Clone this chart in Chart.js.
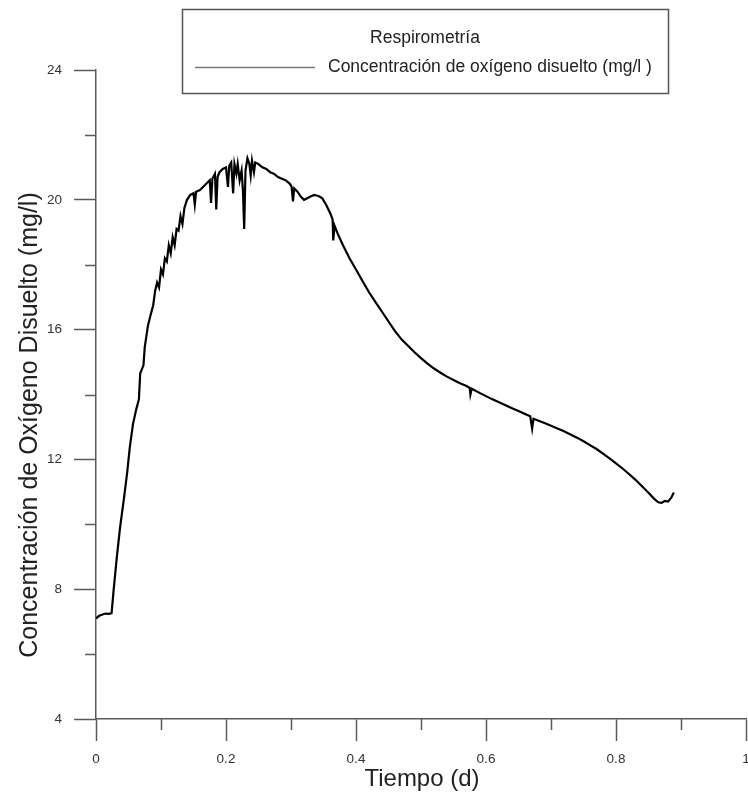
<!DOCTYPE html>
<html>
<head>
<meta charset="utf-8">
<title>Respirometría</title>
<script src="https://cdn.jsdelivr.net/npm/chart.js@4.4.1/dist/chart.umd.min.js"></script>
<style>
  html, body { margin: 0; padding: 0; background: #fff; }
  #wrap { width: 748px; height: 796px; }
</style>
</head>
<body>
<div id="wrap"><canvas id="resp-chart" width="748" height="796"></canvas></div>
<script>
// ─── DATA ─────────────────────────────────────────────────
const legendTitle = 'Respirometría';
const seriesLabel = 'Concentración de oxígeno disuelto (mg/l )';
const xTitle = 'Tiempo (d)';
const yTitle = 'Concentración de Oxígeno Disuelto (mg/l)';

const xTicks = [0, 0.2, 0.4, 0.6, 0.8, 1];
const xMinorTicks = [0.1, 0.3, 0.5, 0.7, 0.9];
const yTicks = [4, 8, 12, 16, 20, 24];
const yMinorTicks = [6, 10, 14, 18, 22];

// time (d)
const tiempo = [
    0.000, 0.005, 0.010, 0.015, 0.020, 0.024, 0.027, 0.032, 0.037, 0.043,
    0.048, 0.052, 0.057, 0.062, 0.066, 0.068, 0.073, 0.075, 0.080, 0.084,
    0.088, 0.091, 0.094, 0.097, 0.100, 0.103, 0.106, 0.109, 0.112, 0.115,
    0.118, 0.121, 0.124, 0.127, 0.130, 0.133, 0.136, 0.140, 0.145, 0.150,
    0.152, 0.154, 0.160, 0.165, 0.170, 0.175, 0.177, 0.179, 0.183, 0.185,
    0.187, 0.190, 0.195, 0.200, 0.203, 0.205, 0.208, 0.211, 0.213, 0.216,
    0.218, 0.221, 0.224, 0.226, 0.228, 0.230, 0.233, 0.236, 0.238, 0.240,
    0.243, 0.245, 0.250, 0.256, 0.262, 0.268, 0.274, 0.280, 0.286, 0.292,
    0.298, 0.301, 0.303, 0.305, 0.310, 0.315, 0.320, 0.325, 0.330, 0.336,
    0.342, 0.348, 0.354, 0.360, 0.364, 0.365, 0.367, 0.372, 0.380, 0.390,
    0.400, 0.410, 0.420, 0.430, 0.440, 0.450, 0.460, 0.470, 0.480, 0.490,
    0.500, 0.510, 0.520, 0.530, 0.540, 0.550, 0.560, 0.570, 0.575, 0.576,
    0.578, 0.590, 0.600, 0.610, 0.620, 0.630, 0.640, 0.650, 0.660, 0.668,
    0.671, 0.673, 0.680, 0.690, 0.700, 0.710, 0.720, 0.730, 0.740, 0.750,
    0.760, 0.770, 0.780, 0.790, 0.800, 0.810, 0.820, 0.830, 0.840, 0.850,
    0.858, 0.865, 0.870, 0.875, 0.880, 0.885, 0.889
];

// dissolved oxygen (mg/l)
const oxigeno = [
    7.10, 7.18, 7.22, 7.25, 7.24, 7.26, 7.95, 8.98, 9.90, 10.80,
    11.60, 12.37, 13.10, 13.55, 13.85, 14.65, 14.90, 15.46, 16.13, 16.45,
    16.75, 17.20, 17.45, 17.30, 17.85, 17.70, 18.20, 18.10, 18.60, 18.35,
    18.85, 18.60, 19.10, 19.05, 19.50, 19.25, 19.75, 20.00, 20.15, 20.20,
    19.85, 20.25, 20.30, 20.40, 20.50, 20.60, 19.90, 20.65, 20.80, 19.70,
    20.70, 20.85, 20.95, 21.00, 20.40, 21.05, 21.15, 20.20, 21.10, 20.80,
    21.10, 20.60, 20.90, 20.30, 19.10, 20.90, 21.28, 21.10, 20.75, 21.20,
    20.85, 21.15, 21.10, 21.00, 20.95, 20.85, 20.80, 20.70, 20.65, 20.60,
    20.50, 20.40, 19.95, 20.35, 20.25, 20.10, 20.00, 20.05, 20.10, 20.15,
    20.12, 20.05, 19.85, 19.60, 19.40, 18.75, 19.20, 18.95, 18.60, 18.20,
    17.85, 17.50, 17.15, 16.85, 16.55, 16.25, 15.95, 15.70, 15.50, 15.30,
    15.12, 14.95, 14.80, 14.67, 14.55, 14.45, 14.35, 14.26, 14.20, 14.00,
    14.18, 14.05, 13.95, 13.85, 13.76, 13.67, 13.58, 13.49, 13.40, 13.33,
    12.95, 13.25, 13.20, 13.12, 13.04, 12.95, 12.87, 12.77, 12.67, 12.56,
    12.44, 12.32, 12.18, 12.03, 11.88, 11.72, 11.55, 11.37, 11.17, 10.97,
    10.80, 10.68, 10.66, 10.72, 10.70, 10.82, 10.98
];

// ─── PLUGINS ──────────────────────────────────────────────
const AXIS_COLOR = '#5a5a5a';
const TEXT_COLOR = '#222';
const FONT = '"Liberation Sans", Arial, sans-serif';

// short minor ticks between the labelled ones
const minorTicks = {
    id: 'minorTicks',
    afterDraw(chart) {
        const c = chart.ctx, xs = chart.scales.x, ys = chart.scales.y;
        c.save();
        c.strokeStyle = AXIS_COLOR;
        c.lineWidth = 1.5;
        c.beginPath();
        xMinorTicks.forEach(v => {
            const px = Math.round(xs.getPixelForValue(v)) + 0.5;
            c.moveTo(px, ys.bottom);
            c.lineTo(px, ys.bottom + 11);
        });
        yMinorTicks.forEach(v => {
            const py = Math.round(ys.getPixelForValue(v)) + 0.5;
            c.moveTo(xs.left - 11, py);
            c.lineTo(xs.left, py);
        });
        c.stroke();
        c.restore();
    }
};

// boxed legend + axis titles
const annotations = {
    id: 'annotations',
    afterDraw(chart) {
        const c = chart.ctx;
        const ds = chart.data.datasets[0];
        c.save();

        // legend box
        c.strokeStyle = '#555';
        c.lineWidth = 1.5;
        c.strokeRect(182.5, 9.5, 486, 84);
        c.fillStyle = TEXT_COLOR;
        c.font = '17.5px ' + FONT;
        c.textAlign = 'center';
        c.textBaseline = 'middle';
        c.fillText(legendTitle, 425, 38);
        c.strokeStyle = '#777';
        c.beginPath();
        c.moveTo(195, 67.5);
        c.lineTo(315, 67.5);
        c.stroke();
        c.textAlign = 'left';
        c.fillText(ds.label, 328, 67);

        // x title
        c.font = '24px ' + FONT;
        c.textAlign = 'center';
        c.textBaseline = 'alphabetic';
        c.fillText(xTitle, 422, 786);

        // y title
        c.font = '25px ' + FONT;
        c.translate(37, 425);
        c.rotate(-Math.PI / 2);
        c.fillText(yTitle, 0, 0);
        c.restore();
    }
};

// ─── CHART ────────────────────────────────────────────────
Chart.defaults.font.family = FONT;
const ctx = document.getElementById('resp-chart');
new Chart(ctx, {
    type: 'line',
    data: {
        datasets: [{
            label: seriesLabel,
            data: tiempo.map((t, i) => ({ x: t, y: oxigeno[i] })),
            borderColor: '#000',
            borderWidth: 2.2,
            pointRadius: 0,
            tension: 0,
            fill: false,
        }]
    },
    options: {
        responsive: false, animation: false, devicePixelRatio: 1,
        layout: { padding: { top: 70, right: 2, left: 0, bottom: 0 } },
        plugins: { legend: { display: false }, tooltip: { enabled: false } },
        scales: {
            x: {
                type: 'linear', min: 0, max: 1, position: 'bottom',
                afterBuildTicks: s => { s.ticks = xTicks.map(v => ({ value: v })); },
                afterFit: s => { s.height = 77; s.paddingLeft = 0; s.paddingRight = 0; },
                border: { display: true, color: AXIS_COLOR, width: 1.5 },
                grid: { drawOnChartArea: false, drawTicks: true, tickLength: 22, tickColor: AXIS_COLOR, tickWidth: 1.5 },
                ticks: { padding: 10, color: '#333', font: { size: 13.5 }, maxRotation: 0, autoSkip: false, callback: v => String(v) },
            },
            y: {
                type: 'linear', min: 4, max: 24, position: 'left',
                afterBuildTicks: s => { s.ticks = yTicks.map(v => ({ value: v })); },
                afterFit: s => { s.width = 96; s.paddingTop = 0; s.paddingBottom = 0; },
                border: { display: true, color: AXIS_COLOR, width: 1.5 },
                grid: { drawOnChartArea: false, drawTicks: true, tickLength: 22, tickColor: AXIS_COLOR, tickWidth: 1.5 },
                ticks: { padding: 12, color: '#333', font: { size: 13.5 }, autoSkip: false, callback: v => String(v) },
            }
        }
    },
    plugins: [minorTicks, annotations]
});
</script>
</body>
</html>
